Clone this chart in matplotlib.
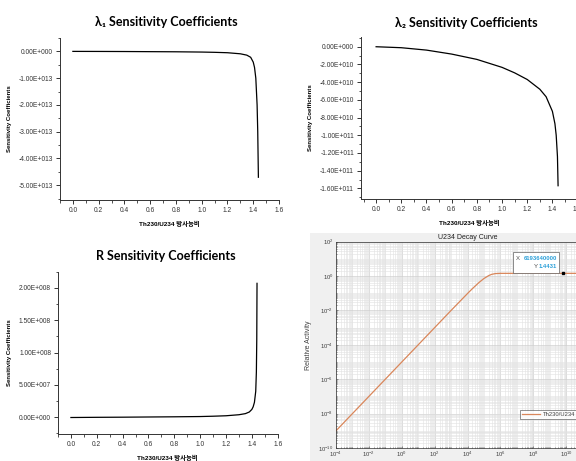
import matplotlib
matplotlib.use('Agg')
import matplotlib.pyplot as plt
import numpy as np
from matplotlib.ticker import MultipleLocator, FuncFormatter, FixedLocator, LogLocator, NullFormatter
from matplotlib.patches import Rectangle

plt.rcParams['font.family'] = ['Liberation Sans', 'Noto Sans CJK KR', 'DejaVu Sans']
plt.rcParams['mathtext.fontset'] = 'custom'
plt.rcParams['mathtext.rm'] = 'Liberation Sans'
plt.rcParams['mathtext.default'] = 'regular'

# --- data ---
# lambda1 sensitivity
x_l1 = [0.0, 0.2, 0.4, 0.6, 0.8, 1.0, 1.1, 1.2, 1.3, 1.35, 1.38, 1.40, 1.41, 1.42, 1.43, 1.435, 1.44]
y_l1 = [0.0, -0.002e13, -0.005e13, -0.01e13, -0.015e13, -0.025e13, -0.035e13, -0.05e13, -0.09e13,
        -0.14e13, -0.22e13, -0.4e13, -0.6e13, -1.0e13, -2.0e13, -3.0e13, -4.7e13]

# lambda2 sensitivity
x_l2 = [0.0, 0.2, 0.4, 0.6, 0.8, 1.0, 1.1, 1.2, 1.3, 1.35, 1.4, 1.42, 1.43, 1.44, 1.445]
y_l2 = [0.0, -0.11e10, -0.38e10, -0.83e10, -1.43e10, -2.33e10, -2.95e10, -3.7e10, -4.8e10,
        -5.65e10, -7.3e10, -8.7e10, -10.0e10, -12.4e10, -15.7e10]

# R sensitivity
x_r = [0.0, 0.2, 0.4, 0.6, 0.8, 1.0, 1.1, 1.2, 1.3, 1.35, 1.38, 1.40, 1.41, 1.42, 1.43, 1.435, 1.438, 1.44]
y_r = [-0.05e7, -0.02e7, 0.0, 0.03e7, 0.06e7, 0.1e7, 0.15e7, 0.22e7, 0.38e7, 0.55e7, 0.8e7,
       1.2e7, 1.6e7, 2.3e7, 4.0e7, 7.0e7, 12.0e7, 20.7e7]

# U234 decay curve (Th230/U234)
t_years = [1e-4, 1e-2, 1e0, 1e2, 1e3, 1e4, 2e4, 5e4, 1e5, 2e5, 3e5, 5e5, 1e6, 1e8, 6.19364e9, 1e12]
activity = [1e-9, 1e-7, 1e-5, 1e-3, 1e-2, 0.0967, 0.187, 0.423, 0.722, 1.082, 1.267, 1.398,
            1.442, 1.4431, 1.4431, 1.4431]
tip_x, tip_y = 6193640000, 1.4431

W, H = 576, 461
fig = plt.figure(figsize=(W / 100, H / 100), dpi=100)


def px(left, top, right, bottom):
    # pixel box -> figure fraction rect
    return [left / W, 1 - bottom / H, (right - left) / W, (bottom - top) / H]


def sci_fmt(v, pos):
    if abs(v) < 1e-30:
        return '0.00E+000'
    e = int(np.floor(np.log10(abs(v)) + 1e-9))
    m = v / 10 ** e
    return f'{m:.2f}E+{e:03d}'


def origin_axes(rect, x, y, ylim, ymaj, title, tx, ty):
    ax = fig.add_axes(rect)
    ax.plot(x, y, color='black', lw=0.9)
    ax.set_xlim(-0.1, 1.6)
    ax.set_ylim(*ylim)
    for s in ['top', 'right']:
        ax.spines[s].set_visible(False)
    for s in ['left', 'bottom']:
        ax.spines[s].set_linewidth(0.7)
        ax.spines[s].set_color('#333333')
    ax.xaxis.set_major_locator(FixedLocator(np.arange(0, 1.61, 0.2)))
    ax.xaxis.set_minor_locator(MultipleLocator(0.1))
    ax.xaxis.set_major_formatter(FuncFormatter(lambda v, p: f'{v:.1f}'))
    ax.yaxis.set_major_locator(MultipleLocator(ymaj))
    ax.yaxis.set_minor_locator(MultipleLocator(ymaj / 2))
    ax.yaxis.set_major_formatter(FuncFormatter(sci_fmt))
    ax.tick_params(which='major', direction='out', length=3, width=0.7, labelsize=4.8,
                   colors='#333333', pad=2)
    ax.tick_params(which='minor', direction='out', length=1.8, width=0.6, colors='#333333')
    ax.set_xlabel('Th230/U234 방사능비', fontsize=4.6, fontweight='bold', labelpad=5)
    ax.set_ylabel('Sensitivity Coefficients', fontsize=4.3, fontweight='bold', labelpad=5)
    fig.text(tx / W, 1 - ty / H, title, fontsize=9, fontweight='bold',
             family=['Lato', 'DejaVu Sans'], ha='center', va='center')
    return ax


ax1 = origin_axes(px(60, 38, 279, 200), x_l1, y_l1, (-5.55e13, 0.5e13), 1e13,
                  'λ₁ Sensitivity Coefficients', 166, 22)
ax2 = origin_axes(px(361, 37, 577.6, 199), x_l2, y_l2, (-1.72e11, 1.1e10), 2e10,
                  'λ₂ Sensitivity Coefficients', 466, 23)
ax2.set_xlim(-0.12, 1.6)
ax3 = origin_axes(px(58, 271.7, 277.7, 434), x_r, y_r, (-0.26e8, 2.25e8), 5e7,
                  'R Sensitivity Coefficients', 166, 256)

# --- MATLAB style panel ---
fig.patches.append(Rectangle((310 / W, 0), 1 - 310 / W, 1 - 233 / H,
                             transform=fig.transFigure, facecolor='#f0f0f0',
                             edgecolor='none', zorder=-5))

ax4 = fig.add_axes(px(336, 241.7, 599, 448))
ax4.set_zorder(1)
ax4.set_facecolor('white')
ax4.loglog(t_years, activity, color='#d9865a', lw=0.9, label='Th230/U234')
ax4.set_xlim(1e-4, 1e12)
ax4.set_ylim(1e-10, 1e2)
ax4.xaxis.set_major_locator(FixedLocator([10.0 ** k for k in range(-4, 13, 2)]))
ax4.yaxis.set_major_locator(FixedLocator([10.0 ** k for k in range(-10, 3, 2)]))
ax4.xaxis.set_major_formatter(FuncFormatter(lambda v, p: f'$10^{{{int(round(np.log10(v)))}}}$'))
ax4.yaxis.set_major_formatter(FuncFormatter(lambda v, p: f'$10^{{{int(round(np.log10(v)))}}}$'))
ax4.xaxis.set_minor_locator(LogLocator(base=10, subs=np.arange(1, 10), numticks=100))
ax4.yaxis.set_minor_locator(LogLocator(base=10, subs=np.arange(1, 10), numticks=100))
ax4.xaxis.set_minor_formatter(NullFormatter())
ax4.yaxis.set_minor_formatter(NullFormatter())
ax4.grid(True, which='minor', color='#e2e2e2', lw=0.4)
ax4.grid(True, which='major', color='#cfcfcf', lw=0.5)
ax4.set_axisbelow(True)
ax4.tick_params(which='both', direction='in', labelsize=4.2, colors='#404040', pad=1,
                length=1.5, width=0.4)
ax4.tick_params(axis='y', which='major', pad=2)
ax4.tick_params(which='minor', length=0.8)
for s in ax4.spines.values():
    s.set_linewidth(0.5)
    s.set_color('#303030')
ax4.set_title('U234 Decay Curve', fontsize=5, color='#202020', pad=2)
ax4.set_ylabel('Relative Activity', fontsize=5, color='#404040', labelpad=4)

# data tip
ax4.plot([tip_x], [tip_y], 's', color='black', ms=1.5)
fig.patches.append(Rectangle((513 / W, 1 - 272.7 / H), 46 / W, 21 / H,
                             transform=fig.transFigure, facecolor='white',
                             edgecolor='#606060', lw=0.5, zorder=5))
fig.text(516 / W, 1 - 259 / H, 'X', fontsize=4.3, color='#505050', ha='left', va='center', zorder=6)
fig.text(557 / W, 1 - 259 / H, f'{tip_x}', fontsize=4.2, color='#2a9fd8', fontweight='bold',
         ha='right', va='center', zorder=6)
fig.text(538 / W, 1 - 266 / H, 'Y', fontsize=4.3, color='#505050', ha='right', va='center', zorder=6)
fig.text(557 / W, 1 - 266 / H, f'{tip_y}', fontsize=4.2, color='#2a9fd8', fontweight='bold',
         ha='right', va='center', zorder=6)

leg = ax4.legend(loc='center', bbox_to_anchor=(548.5 / W, 1 - 414.5 / H),
                 bbox_transform=fig.transFigure, fontsize=4.2, frameon=True, fancybox=False,
                 handlelength=3.2, handletextpad=0.5, borderpad=0.3, borderaxespad=0)
leg.get_frame().set_edgecolor('#404040')
leg.get_frame().set_linewidth(0.5)
for t in leg.get_texts():
    t.set_color('#404040')

fig.savefig('out.png', dpi=100)
